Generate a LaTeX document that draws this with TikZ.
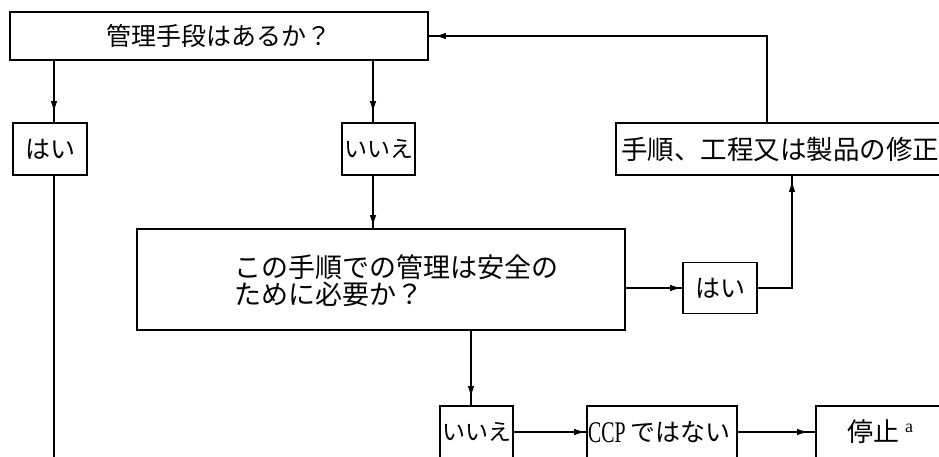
\documentclass[tikz,border=0pt]{standalone}
\usepackage{fontspec}
\setmainfont{Liberation Serif}
\newfontfamily\jp{Noto Sans CJK JP}
\usetikzlibrary{arrows.meta,decorations.markings}
\begin{document}
\begin{tikzpicture}[x=1pt,y=-1pt,
  box/.style={draw,line width=1.7pt,rectangle,inner sep=0pt,font=\jp\fontsize{25}{27}\selectfont},
  txt/.style={inner sep=0pt,font=\jp\fontsize{26}{27}\selectfont},
  conn/.style={line width=1.3pt},
  arr/.style={conn,postaction={decorate},decoration={markings,mark=at position -#1 with {\arrow{Latex[length=11pt,width=6.5pt]}}}},
  arr/.default=4pt]
\useasboundingbox (0,0) rectangle (939,457);
\clip (0,0) rectangle (939,457);
% nodes
\node[box,minimum width=418pt,minimum height=48pt] (q1) at (219,36) {管理手段はあるか？};
\node[box,minimum width=74pt,minimum height=52pt] (yes1) at (50,149) {はい};
\node[box,minimum width=73pt,minimum height=52pt,font=\jp\fontsize{23}{25}\selectfont] (no1) at (378.5,149) {いいえ};
\node[box,minimum width=488pt,minimum height=101pt] (q2) at (381,279.5) {};
\node[txt,anchor=west,align=left,font=\jp\fontsize{27}{27}\selectfont] (q2t) at (234,281) {この手順での管理は安全の\\ために必要か？};
\node[box,minimum width=74pt,minimum height=51pt] (yes2) at (720,288) {はい};
\node[box,minimum width=340pt,minimum height=52pt,anchor=west] (fix) at (615,149) {};
\node[txt,anchor=west,font=\jp\fontsize{26.5}{27}\selectfont] (fixt) at (621,149) {手順、工程又は製品の修正};
\node[box,minimum width=73pt,minimum height=52pt,font=\jp\fontsize{23}{25}\selectfont] (no2) at (476.5,432) {いいえ};
\node[box,minimum width=150pt,minimum height=52pt] (notccp) at (662,432) {};
\node[txt,anchor=west,font=\fontsize{25}{27}\selectfont] (notccpt) at (588,432) {\raisebox{-1pt}{\scalebox{0.66}[1]{\rmfamily\fontsize{30}{32}\selectfont CCP}}\hspace{5pt}{\jp ではない}};
\node[box,minimum width=140pt,minimum height=52pt,anchor=west] (stop) at (815,432) {};
\node[txt] (stopt) at (880,432) {{\jp 停止}\hspace{6pt}\raisebox{9pt}{\rmfamily\fontsize{18}{20}\selectfont a}};
% column coordinates
\coordinate (xa) at (54,0);
\coordinate (xb) at (373,0);
\coordinate (xc) at (471,0);
\coordinate (xd) at (792,0);
\coordinate (xe) at (767,0);
\coordinate (bot) at (54,470);
% connectors
\draw[arr=10pt] (xa |- q1.south) -- (xa |- yes1.north);
\draw[conn] (xa |- yes1.south) -- (bot);
\draw[arr=10pt] (xb |- q1.south) -- (xb |- no1.north);
\draw[arr=2pt] (xb |- no1.south) -- (xb |- q2.north);
\draw[arr=1pt] (q2.east |- yes2) -- (yes2.west);
\draw[arr=5pt] (yes2.east) -| (xd |- fix.south);
\draw[arr=6pt] (xe |- fix.north) |- (q1.east);
\draw[arr=8pt] (xc |- q2.south) -- (xc |- no2.north);
\draw[arr=1pt] (no2.east) -- (notccp.west);
\draw[arr=7pt] (notccp.east) -- (stop.west);
\end{tikzpicture}
\end{document}
